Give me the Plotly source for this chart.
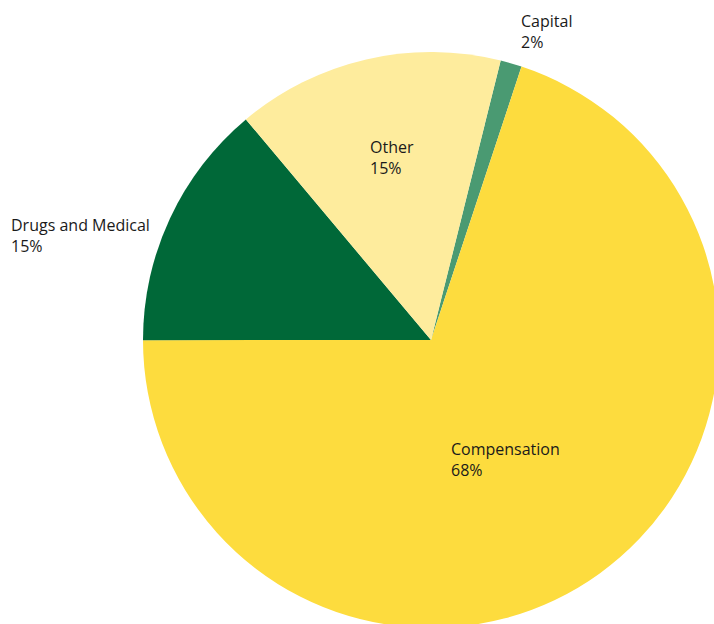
import plotly.graph_objects as go

categories = ["Capital", "Compensation", "Drugs and Medical", "Other"]
values = [1.2, 69.9, 13.9, 15.0]
pct_labels = ["2%", "68%", "15%", "15%"]
colors = ["#4a9a72", "#fddc3e", "#006838", "#feec9d"]
title_text = "Operating Expenditures by Category (Typical Year)"

W, H = 740, 660
cx, cy, r = 431, 340, 288

fig = go.Figure(go.Pie(
    labels=categories,
    values=values,
    sort=False,
    direction="clockwise",
    rotation=14,
    marker=dict(colors=colors, line=dict(width=0)),
    textinfo="none",
    hoverinfo="label+percent",
    showlegend=False,
    domain=dict(x=[(cx - r) / W, (cx + r) / W], y=[1 - (cy + r) / H, 1 - (cy - r) / H]),
))

label_pos = {
    "Capital": (519, 32),
    "Compensation": (449, 459),
    "Drugs and Medical": (9, 235),
    "Other": (368, 157),
}
annotations = []
for cat, pct in zip(categories, pct_labels):
    px, py = label_pos[cat]
    annotations.append(dict(
        x=px / W, y=1 - py / H, xref="paper", yref="paper",
        xanchor="left", yanchor="middle", align="left",
        text=f"{cat}<br>{pct}", showarrow=False,
        font=dict(family="Open Sans, sans-serif", size=16, color="#1a1a1a"),
    ))
annotations.append(dict(
    x=325 / W, y=1 + 17 / H, xref="paper", yref="paper",
    xanchor="left", yanchor="middle", text=f"<b>{title_text}</b>", showarrow=False,
    font=dict(family="Open Sans, sans-serif", size=24, color="#1a1a1a"),
))

fig.update_layout(
    width=W, height=H,
    margin=dict(l=0, r=0, t=0, b=0),
    paper_bgcolor="white", plot_bgcolor="white",
    annotations=annotations,
)

fig.write_html(
    "out.html",
    config={"displayModeBar": False},
    post_script="document.documentElement.style.overflow='hidden';document.body.style.overflow='hidden';document.body.style.margin='0';",
)
